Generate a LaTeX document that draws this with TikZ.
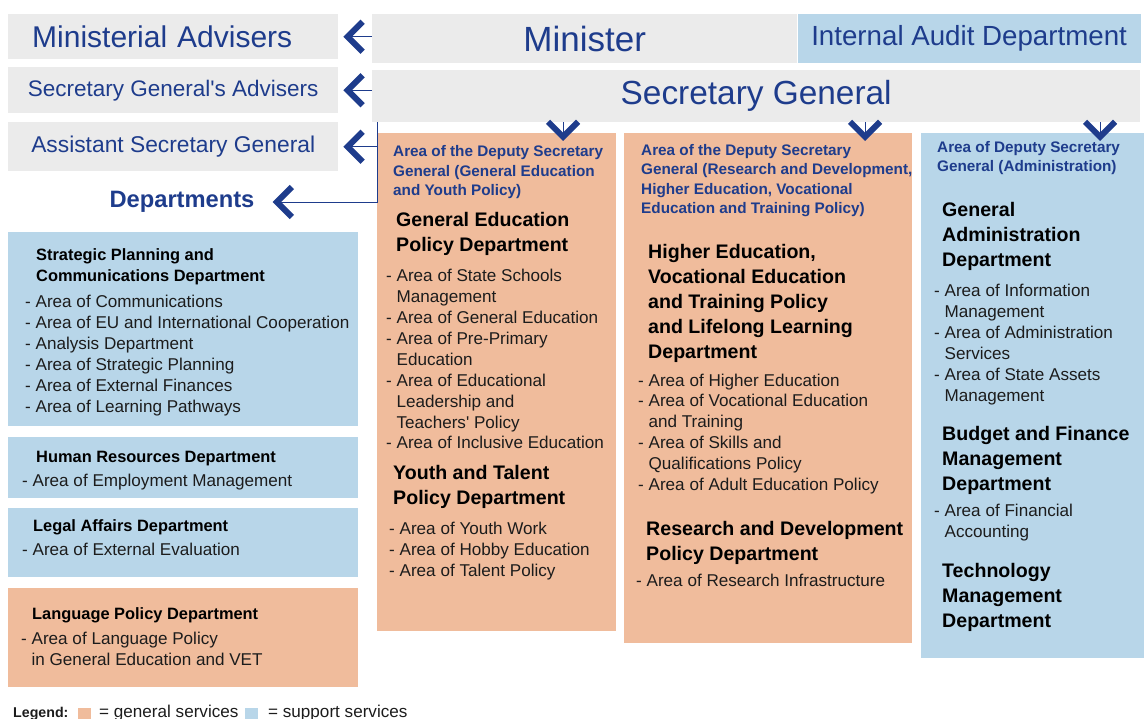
\documentclass[tikz,border=0pt]{standalone}
\usepackage{fontspec}
\setmainfont{Liberation Sans}
\usetikzlibrary{arrows.meta, positioning}

\definecolor{navy}{HTML}{1E3C8C}
\definecolor{topgrey}{HTML}{EBEBEB}
\definecolor{supblue}{HTML}{B8D6E9}
\definecolor{genorange}{HTML}{F0BC9C}
\definecolor{itemgrey}{HTML}{1C1C1C}

\tikzset{
  greybox/.style={fill=topgrey, inner sep=0pt, anchor=north west, text=navy},
  support/.style={fill=supblue, inner sep=0pt, anchor=north west},
  general/.style={fill=genorange, inner sep=0pt, anchor=north west},
  areahead/.style={anchor=base west, inner sep=0pt, align=left, text=navy, font=\fontsize{15.3}{19.3}\selectfont\bfseries},
  depttitle/.style={anchor=base west, inner sep=0pt, align=left, text=black, font=\fontsize{19.6}{25}\selectfont\bfseries},
  smalltitle/.style={anchor=base west, inner sep=0pt, align=left, text=black, font=\fontsize{16.4}{21}\selectfont\bfseries},
  arealist/.style={anchor=base west, inner sep=0pt, align=left, text=itemgrey, font=\fontsize{17.1}{20.9}\selectfont},
  chev/.style={navy, line width=0.8pt, -{Straight Barb[length=15pt, width=30pt, line width=6pt]}},
}

\newcommand{\ind}{\phantom{- }}

\begin{document}
\begin{tikzpicture}[x=1pt, y=-1pt]
\useasboundingbox (0,0) rectangle (1144,719);

% top row
\node[greybox, text width=282pt, inner xsep=24pt, align=left, minimum height=45pt, font=\fontsize{30}{36}\selectfont] (minadv) at (8,14) {Ministerial Advisers};
\node[greybox, minimum width=425pt, minimum height=49pt, font=\fontsize{35}{42}\selectfont] (minister) at (372,14) {Minister};
\node[support, minimum width=343pt, minimum height=49pt, right=0pt of minister, text=navy, font=\fontsize{27.7}{33}\selectfont] (audit) {Internal Audit Department};
\node[greybox, minimum width=330pt, minimum height=46pt, font=\fontsize{22.5}{27}\selectfont] (sgadv) at (8,67) {Secretary General\textquotesingle s Advisers};
\node[greybox, minimum width=768pt, minimum height=52pt, font=\fontsize{33.4}{40}\selectfont] (secgen) at (372,70) {Secretary General};
\node[greybox, minimum width=330pt, minimum height=49pt, font=\fontsize{22.8}{27}\selectfont] (asg) at (8,122) {Assistant Secretary General};
\node[inner sep=0pt, text=navy, font=\fontsize{23.7}{28}\selectfont\bfseries] (depts) at (182,202) {Departments};

% deputy areas
\node[general, minimum width=239pt, minimum height=498pt] (gencol) at (377,133) {};
\node[general, minimum width=288pt, minimum height=510pt] (rdcol) at (624,133) {};
\node[support, minimum width=223pt, minimum height=525pt] (admcol) at (921,133) {};

% left departments
\node[support, minimum width=350pt, minimum height=194pt] (strat) at (8,232) {};
\node[support, minimum width=350pt, minimum height=61pt, below=10pt of strat] (hr) {};
\node[support, minimum width=350pt, minimum height=69pt, below=10pt of hr] (legal) {};
\node[general, minimum width=350pt, minimum height=99pt, below=11pt of legal] (lang) {};

% arrows
\draw[chev] (minister.west |- minadv.east) -- ([xshift=5pt]minadv.east);
\draw[chev] (secgen.west |- sgadv.east) -- ([xshift=5pt]sgadv.east);
\coordinate (split) at ([xshift=5pt]secgen.south west);
\draw[chev] (split) |- ([xshift=5pt]asg.east);
\draw[chev] (split) |- ([xshift=18pt]depts.east);
\coordinate (tipgen) at (563,141);
\coordinate (tiprd) at (865,141);
\coordinate (tipadm) at (1100,141);
\draw[chev] (tipgen |- secgen.south) -- (tipgen);
\draw[chev] (tiprd |- secgen.south) -- (tiprd);
\draw[chev] (tipadm |- secgen.south) -- (tipadm);

% general education and youth (nodes sit on the baseline of their last line)
\node[areahead] (genhead) at (393,195.5) {Area of the Deputy Secretary\\General (General Education\\and Youth Policy)};
\node[depttitle] (gepd) at (396,252) {General Education\\Policy Department};
\node[arealist] (gelist) at (386,449) {- Area of State Schools\\\ind Management\\- Area of General Education\\- Area of Pre-Primary\\\ind Education\\- Area of Educational\\\ind Leadership and\\\ind Teachers\textquotesingle{} Policy\\- Area of Inclusive Education};
\node[depttitle] (ytpd) at (393,504) {Youth and Talent\\Policy Department};
\node[arealist] (ytlist) at (389,576) {- Area of Youth Work\\- Area of Hobby Education\\- Area of Talent Policy};

% research, higher and vocational education
\node[areahead] (rdhead) at (641,213.5) {Area of the Deputy Secretary\\General (Research and Development,\\Higher Education, Vocational\\Education and Training Policy)};
\node[depttitle] (hevpd) at (648,359) {Higher Education,\\Vocational Education\\and Training Policy\\and Lifelong Learning\\Department};
\node[arealist] (hevlist) at (638,490.5) {- Area of Higher Education\\- Area of Vocational Education\\\ind and Training\\- Area of Skills and\\\ind Qualifications Policy\\- Area of Adult Education Policy};
\node[depttitle] (rdpd) at (646,560) {Research and Development\\Policy Department};
\node[arealist] (rdlist) at (636,586) {- Area of Research Infrastructure};

% administration
\node[areahead, font=\fontsize{15.3}{19}\selectfont\bfseries] (admhead) at (937,172) {Area of Deputy Secretary\\General (Administration)};
\node[depttitle] (gad) at (942,267) {General\\Administration\\Department};
\node[arealist] (gadlist) at (934,401.5) {- Area of Information\\\ind Management\\- Area of Administration\\\ind Services\\- Area of State Assets\\\ind Management};
\node[depttitle] (bfmd) at (942,490) {Budget and Finance\\Management\\Department};
\node[arealist] (bfmdlist) at (934,537) {- Area of Financial\\\ind Accounting};
\node[depttitle] (tmd) at (942,627) {Technology\\Management\\Department};

% left column texts
\node[smalltitle] (strattitle) at (36,282) {Strategic Planning and\\Communications Department};
\node[arealist] (stratlist) at (25,412.5) {- Area of Communications\\- Area of EU and International Cooperation\\- Analysis Department\\- Area of Strategic Planning\\- Area of External Finances\\- Area of Learning Pathways};
\node[smalltitle] (hrtitle) at (36,462) {Human Resources Department};
\node[arealist] (hrlist) at (22,486) {- Area of Employment Management};
\node[smalltitle] (legaltitle) at (33,531) {Legal Affairs Department};
\node[arealist] (legallist) at (22,555) {- Area of External Evaluation};
\node[smalltitle] (langtitle) at (32,619) {Language Policy Department};
\node[arealist] (langlist) at (21,665) {- Area of Language Policy\\\ind in General Education and VET};

% legend
\node[smalltitle, text=itemgrey, font=\fontsize{14.2}{17}\selectfont\bfseries] (legend) at (13,717) {Legend:};
\node[general, minimum width=13pt, minimum height=12pt] (leggen) at (78,708) {};
\node[arealist] (leggentext) at (99,717) {= general services};
\node[support, minimum width=13pt, minimum height=12pt] (legsup) at (245,708) {};
\node[arealist] (legsuptext) at (268,717) {= support services};
\end{tikzpicture}
\end{document}
